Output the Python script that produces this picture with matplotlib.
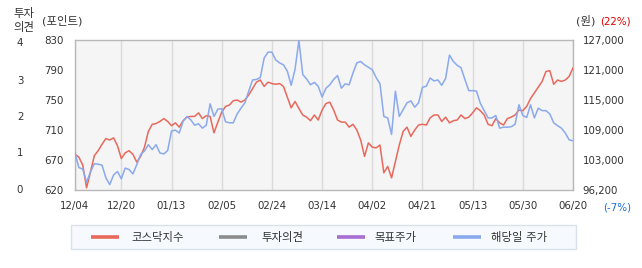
import matplotlib
matplotlib.use("Agg")
import matplotlib.pyplot as plt
from matplotlib.patches import Rectangle
from matplotlib.lines import Line2D
import numpy as np

plt.rcParams['font.family'] = ['DejaVu Sans', 'Noto Sans CJK KR']

# ---- data ----
tick_idx = [0, 12, 25, 38, 51, 64, 77, 90, 103, 116, 129]
tick_labels = ['12/04', '12/20', '01/13', '02/05', '02/24', '03/14',
               '04/02', '04/21', '05/13', '05/30', '06/20']

kosdaq = [670, 666, 655, 623, 645, 668, 675, 684, 692, 690,
          693, 682, 664, 672, 675, 670, 659, 667, 680, 702,
          712, 713, 716, 720, 716, 710, 714, 708, 717, 722,
          723, 723, 728, 720, 724, 723, 700, 715, 729, 737,
          739, 745, 746, 743, 746, 753, 762, 771, 774, 765,
          771, 769, 768, 769, 765, 750, 735, 744, 734, 725,
          722, 717, 725, 718, 732, 741, 743, 732, 718, 715,
          715, 708, 712, 704, 690, 667, 686, 680, 679, 683,
          644, 653, 637, 660, 683, 702, 708, 695, 704, 711,
          712, 711, 721, 725, 725, 716, 722, 714, 717, 718,
          725, 720, 722, 728, 735, 731, 725, 712, 710, 720,
          714, 711, 720, 722, 725, 732, 731, 737, 748, 756,
          764, 772, 786, 787, 768, 774, 772, 774, 779, 791]

stock = [103800, 100800, 100500, 97800, 99900, 101600, 101500, 101300, 98700, 97300,
         99300, 100000, 98500, 100700, 100400, 99500, 101400, 103500, 104200, 105500,
         104500, 105500, 103800, 103600, 104300, 108300, 108500, 107900, 110300, 111300,
         110600, 109500, 109800, 108900, 109500, 113900, 111300, 112800, 112900, 110200,
         110000, 110000, 111800, 113000, 114100, 116500, 118800, 118900, 119300, 123300,
         124500, 124500, 122900, 122300, 121900, 120600, 117700, 121000, 126900, 119900,
         119000, 117800, 118300, 117500, 115300, 117100, 117800, 118900, 119700, 117100,
         118000, 117800, 120200, 122300, 122600, 121900, 121400, 120900, 119300, 118000,
         111300, 111000, 107600, 116500, 111300, 112700, 114100, 114500, 113200, 114100,
         117300, 117500, 119200, 118600, 118800, 117700, 119100, 123900, 122600, 121800,
         121300, 118900, 116600, 116600, 116500, 114000, 112500, 111000, 111000, 111500,
         108900, 109100, 109100, 109200, 109700, 113700, 111500, 111100, 113700, 111000,
         113000, 112500, 112500, 111800, 110000, 109400, 108900, 107900, 106500, 106300]

left_min, left_max = 620, 830
left_labels = ['620', '670', '710', '750', '790', '830']
right_min, right_max = 96200, 127000
right_labels = ['96,200', '103,000', '109,000', '115,000', '121,000', '127,000']
opinion_labels = ['0', '1', '2', '3', '4']

legend_labels = ['코스닥지수', '투자의견', '목표주가', '해당일 주가']
legend_colors = ['#e8695c', '#8c8c8c', '#a66fd0', '#8aa9ee']

# ---- figure ----
W, H = 642, 268
fig = plt.figure(figsize=(W / 100, H / 100), dpi=100)
fig.patch.set_facecolor('white')

def fx(px):
    return px / W

def fy(py):
    return 1 - py / H

ax = fig.add_axes([fx(75), fy(190), fx(573) - fx(75), fy(40) - fy(190)])
ax.set_facecolor('#f5f5f5')
for s in ax.spines.values():
    s.set_color('#b8b8b8')
    s.set_linewidth(1.0)

x = np.arange(len(kosdaq))
ax.plot(x, kosdaq, color=legend_colors[0], lw=1.1, zorder=3)
ax.set_xlim(0, len(kosdaq) - 1)
ax.set_ylim(left_min, left_max)
ax.set_xticks(tick_idx)
ax.set_xticklabels(tick_labels)
ax.grid(axis='x', color='#dadada', lw=1.0)
ax.set_yticks(np.linspace(left_min, left_max, len(left_labels)))
ax.set_yticklabels(left_labels)
ax.tick_params(axis='both', length=0, labelsize=7.4, colors='#333333')
ax.tick_params(axis='x', pad=8)
ax.tick_params(axis='y', pad=8)

ax2 = ax.twinx()
ax2.plot(x, stock, color=legend_colors[3], lw=1.1, zorder=3)
ax2.set_ylim(right_min, right_max)
ax2.set_yticks(np.linspace(right_min, right_max, len(right_labels)))
ax2.set_yticklabels(right_labels)
ax2.tick_params(axis='y', length=0, labelsize=7.4, colors='#333333', pad=7)
for s in ax2.spines.values():
    s.set_visible(False)

# investment opinion scale (far left)
op_pos = [0.0, 0.247, 0.487, 0.727, 0.98]
for lab, p in zip(opinion_labels, op_pos):
    ax.text((20 - 75) / 498, p, lab, transform=ax.transAxes,
            ha='center', va='center', fontsize=7.4, color='#333333')

# header texts
kfont = 8.2
fig.text(fx(13), fy(13), '투자', fontsize=kfont, color='#333333', va='center', ha='left')
fig.text(fx(13), fy(27), '의견', fontsize=kfont, color='#333333', va='center', ha='left')
fig.text(fx(42), fy(21), '(포인트)', fontsize=kfont, color='#333333', va='center', ha='left')
fig.text(fx(576), fy(21), '(원)', fontsize=kfont, color='#333333', va='center', ha='left')
fig.text(fx(631), fy(21), '(22%)', fontsize=7.4, color='#e00000', va='center', ha='right')
fig.text(fx(631), fy(208), '(-7%)', fontsize=7.4, color='#1a6fdc', va='center', ha='right')

# legend box
fig.add_artist(Rectangle((fx(71), fy(249)), fx(576) - fx(71), fy(225) - fy(249),
                         transform=fig.transFigure, facecolor='#f6f9fd',
                         edgecolor='#d8e2ec', lw=1.0))
line_x = [91, 219, 337, 453]
text_x = [131, 261, 374, 491]
for lab, col, lx, tx in zip(legend_labels, legend_colors, line_x, text_x):
    fig.add_artist(Line2D([fx(lx), fx(lx + 28)], [fy(237), fy(237)],
                          transform=fig.transFigure, color=col, lw=2.6,
                          solid_capstyle='butt'))
    fig.text(fx(tx), fy(237), lab, fontsize=kfont, color='#333333',
             va='center', ha='left')

fig.savefig('out.png', dpi=100)
